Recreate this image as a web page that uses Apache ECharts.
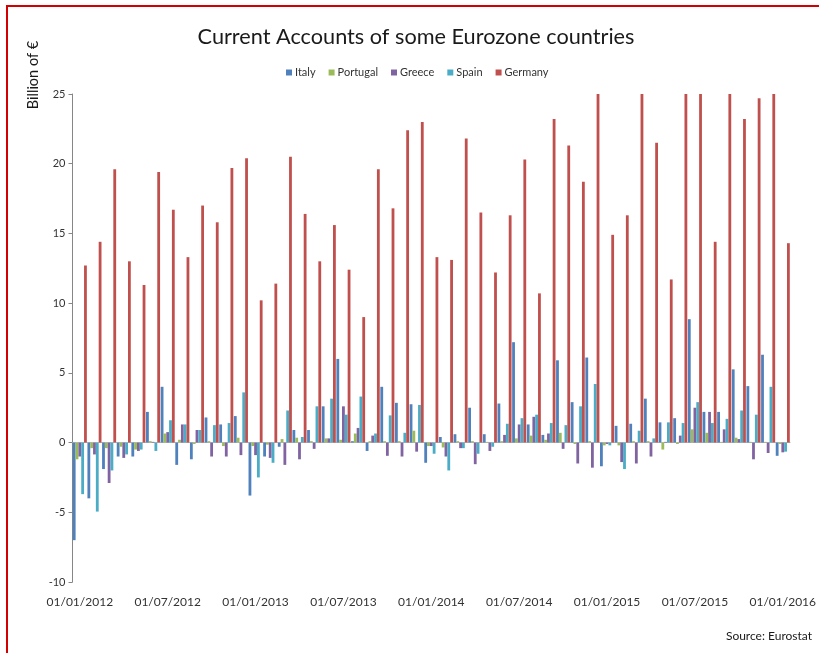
<!DOCTYPE html>
<html>
<head>
<meta charset="utf-8">
<script src="https://cdn.jsdelivr.net/npm/echarts@6/dist/echarts.min.js"></script>
<style>
  html, body { margin: 0; padding: 0; background: #ffffff; }
  #chart { width: 819px; height: 653px; }
</style>
</head>
<body>
<div id="chart"></div>
<script>
// Monthly categories: 01/01/2012 ... 01/01/2016
const months = [
  '01/01/2012','01/02/2012','01/03/2012','01/04/2012','01/05/2012','01/06/2012','01/07/2012','01/08/2012','01/09/2012','01/10/2012','01/11/2012','01/12/2012',
  '01/01/2013','01/02/2013','01/03/2013','01/04/2013','01/05/2013','01/06/2013','01/07/2013','01/08/2013','01/09/2013','01/10/2013','01/11/2013','01/12/2013',
  '01/01/2014','01/02/2014','01/03/2014','01/04/2014','01/05/2014','01/06/2014','01/07/2014','01/08/2014','01/09/2014','01/10/2014','01/11/2014','01/12/2014',
  '01/01/2015','01/02/2015','01/03/2015','01/04/2015','01/05/2015','01/06/2015','01/07/2015','01/08/2015','01/09/2015','01/10/2015','01/11/2015','01/12/2015',
  '01/01/2016'
];

const italy = [
  -7.0, -4.0, -1.9, -1.0, -1.0, 2.2, 4.0, -1.6, -1.2, 1.8, 1.3, 1.9,
  -3.8, -1.0, -0.3, 0.9, 0.9, 2.6, 6.0, 0.1, -0.6, 4.0, 2.85, 2.75,
  -1.45, 0.4, 0.6, 2.5, 0.6, 2.8, 7.2, 1.3, 0.55, 5.9, 2.9, 6.1,
  -1.7, 1.2, 1.35, 3.15, 1.45, 1.75, 8.85, 2.2, 2.2, 5.25, 4.05, 6.3,
  -0.95
];
const portugal = [
  -1.2, -0.4, -0.4, -0.3, -0.5, 0.1, 0.65, 0.2, -0.1, 0.1, -0.25, 0.35,
  -0.25, -0.15, 0.25, 0.35, 0.1, 0.3, 0.2, 0.65, 0.1, 0.1, 0.1, 0.85,
  -0.25, -0.35, 0.1, 0.1, 0.05, 0.1, 0.3, 0.5, 0.2, 0.7, -0.1, 0.1,
  -0.2, -0.2, 0.1, 0.1, -0.5, -0.1, 0.95, 0.7, 0.05, 0.35, 0.05, 0.05,
  -0.1
];
const greece = [
  -1.0, -0.85, -2.9, -1.1, -0.6, 0.05, 0.75, 1.3, 0.9, -1.0, -1.0, -0.9,
  -0.9, -1.1, -1.6, -1.2, -0.45, 0.3, 2.6, 1.05, 0.5, -0.95, -1.0, -0.65,
  -0.25, -1.0, -0.4, -1.55, -0.6, 0.55, 1.3, 1.85, 0.65, -0.45, -1.5, -1.8,
  -0.1, -1.4, -1.5, -1.0, 0.05, 0.5, 2.5, 2.2, 0.95, 0.25, -1.2, -0.75,
  -0.7
];
const spain = [
  -3.7, -4.95, -2.0, -0.85, -0.5, -0.6, 1.6, 1.3, 0.9, 1.25, 1.4, 3.6,
  -2.5, -1.45, 2.3, 0.4, 2.6, 3.15, 2.0, 3.3, 0.65, 1.95, 0.7, 2.7,
  -0.8, -2.0, -0.4, -0.8, -0.3, 1.35, 1.75, 2.0, 1.4, 1.25, 2.6, 4.2,
  -0.2, -1.9, 0.85, 0.3, 1.45, 1.4, 2.9, 1.4, 1.7, 2.3, 2.0, 4.0,
  -0.65
];
const germany = [
  12.7, 14.4, 19.6, 13.0, 11.3, 19.4, 16.7, 13.3, 17.0, 15.8, 19.7, 20.4,
  10.2, 11.4, 20.5, 16.4, 13.0, 15.6, 12.4, 9.0, 19.6, 16.8, 22.4, 23.0,
  13.3, 13.1, 21.8, 16.5, 12.2, 16.3, 20.3, 10.7, 23.2, 21.3, 18.7, 25.0,
  14.9, 16.3, 25.0, 21.5, 11.7, 25.0, 25.0, 14.4, 25.0, 23.2, 24.7, 25.0,
  14.3
];

const seriesNames = ['Italy', 'Portugal', 'Greece', 'Spain', 'Germany'];
const seriesColors = ['#4F81BD', '#9BBB59', '#8064A2', '#4BACC6', '#C0504D'];
const seriesData = [italy, portugal, greece, spain, germany];

const FONT = 'Lato, "Open Sans", sans-serif';
const chart = echarts.init(document.getElementById('chart'), null, { renderer: 'canvas' });

const option = {
  backgroundColor: '#ffffff',
  animation: false,
  color: seriesColors,
  title: {
    text: 'Current Accounts of some Eurozone countries',
    left: 411,
    top: 21,
    textAlign: 'center',
    textStyle: { fontFamily: FONT, fontSize: 21.7, fontWeight: 'normal', color: '#1a1a1a' }
  },
  legend: {
    data: seriesNames,
    left: 281,
    top: 62,
    icon: 'rect',
    itemWidth: 6,
    itemHeight: 6,
    itemGap: 13,
    textStyle: { fontFamily: FONT, fontSize: 11, color: '#333333', padding: [0, 0, 0, -2] }
  },
  grid: { left: 72.5, right: 24.5, top: 94, bottom: 71, containLabel: false },
  xAxis: [
    {
      type: 'category',
      data: months,
      position: 'bottom',
      boundaryGap: true,
      axisLine: { show: false, onZero: false },
      axisTick: { show: false },
      splitLine: { show: false },
      axisLabel: {
        interval: 5,
        margin: 14,
        fontFamily: FONT,
        fontSize: 12,
        color: '#333333'
      }
    },
    {
      type: 'category',
      data: months,
      position: 'bottom',
      boundaryGap: true,
      axisLine: { show: true, onZero: true, lineStyle: { color: '#bfbfbf', width: 1 } },
      axisTick: { show: false },
      axisLabel: { show: false },
      splitLine: { show: false }
    }
  ],
  yAxis: {
    type: 'value',
    min: -10,
    max: 25,
    interval: 5,
    axisLine: { show: true, lineStyle: { color: '#868686', width: 1 } },
    axisTick: { show: true, inside: false, length: 4, lineStyle: { color: '#868686' } },
    splitLine: { show: false },
    axisLabel: { margin: 7, fontFamily: FONT, fontSize: 11, color: '#333333' }
  },
  series: seriesNames.map((name, i) => ({
    name: name,
    type: 'bar',
    xAxisIndex: 0,
    data: seriesData[i],
    barGap: '0%',
    barCategoryGap: '4%',
    itemStyle: { color: seriesColors[i] }
  })),
  graphic: [
    {
      type: 'rect',
      shape: { x: 7, y: 6, width: 840, height: 700 },
      style: { fill: 'none', stroke: '#D40000', lineWidth: 2 },
      silent: true
    },
    {
      type: 'text',
      x: 33,
      y: 75,
      rotation: Math.PI / 2,
      style: {
        text: 'Billion of €',
        fontFamily: FONT,
        fontSize: 14.5,
        fill: '#1a1a1a',
        textAlign: 'center',
        textVerticalAlign: 'middle'
      }
    },
    {
      type: 'text',
      x: 812,
      y: 636,
      style: {
        text: 'Source: Eurostat',
        fontFamily: FONT,
        fontSize: 12,
        fill: '#1a1a1a',
        textAlign: 'right',
        textVerticalAlign: 'middle'
      }
    }
  ]
};
chart.setOption(option);
</script>
</body>
</html>
